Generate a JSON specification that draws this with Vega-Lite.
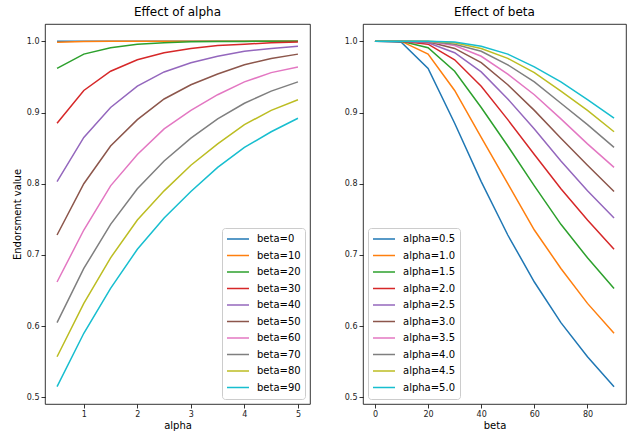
{
  "$schema": "https://vega.github.io/schema/vega-lite/v6.json",
  "padding": {"top": 5, "left": 11, "right": 0, "bottom": 0},
  "datasets": {
    "grid": [
      {"beta": 0, "alpha": 0.5, "v": 1.0}, {"beta": 0, "alpha": 1.0, "v": 1.0}, {"beta": 0, "alpha": 1.5, "v": 1.0}, {"beta": 0, "alpha": 2.0, "v": 1.0}, {"beta": 0, "alpha": 2.5, "v": 1.0}, {"beta": 0, "alpha": 3.0, "v": 1.0}, {"beta": 0, "alpha": 3.5, "v": 1.0}, {"beta": 0, "alpha": 4.0, "v": 1.0}, {"beta": 0, "alpha": 4.5, "v": 1.0}, {"beta": 0, "alpha": 5.0, "v": 1.0},
      {"beta": 10, "alpha": 0.5, "v": 0.9985}, {"beta": 10, "alpha": 1.0, "v": 0.9999}, {"beta": 10, "alpha": 1.5, "v": 1.0}, {"beta": 10, "alpha": 2.0, "v": 1.0}, {"beta": 10, "alpha": 2.5, "v": 1.0}, {"beta": 10, "alpha": 3.0, "v": 1.0}, {"beta": 10, "alpha": 3.5, "v": 1.0}, {"beta": 10, "alpha": 4.0, "v": 1.0}, {"beta": 10, "alpha": 4.5, "v": 1.0}, {"beta": 10, "alpha": 5.0, "v": 1.0},
      {"beta": 20, "alpha": 0.5, "v": 0.962}, {"beta": 20, "alpha": 1.0, "v": 0.982}, {"beta": 20, "alpha": 1.5, "v": 0.991}, {"beta": 20, "alpha": 2.0, "v": 0.996}, {"beta": 20, "alpha": 2.5, "v": 0.998}, {"beta": 20, "alpha": 3.0, "v": 0.9993}, {"beta": 20, "alpha": 3.5, "v": 0.9997}, {"beta": 20, "alpha": 4.0, "v": 0.9999}, {"beta": 20, "alpha": 4.5, "v": 1.0}, {"beta": 20, "alpha": 5.0, "v": 1.0},
      {"beta": 30, "alpha": 0.5, "v": 0.885}, {"beta": 30, "alpha": 1.0, "v": 0.931}, {"beta": 30, "alpha": 1.5, "v": 0.958}, {"beta": 30, "alpha": 2.0, "v": 0.974}, {"beta": 30, "alpha": 2.5, "v": 0.984}, {"beta": 30, "alpha": 3.0, "v": 0.990}, {"beta": 30, "alpha": 3.5, "v": 0.994}, {"beta": 30, "alpha": 4.0, "v": 0.996}, {"beta": 30, "alpha": 4.5, "v": 0.998}, {"beta": 30, "alpha": 5.0, "v": 0.999},
      {"beta": 40, "alpha": 0.5, "v": 0.803}, {"beta": 40, "alpha": 1.0, "v": 0.865}, {"beta": 40, "alpha": 1.5, "v": 0.907}, {"beta": 40, "alpha": 2.0, "v": 0.937}, {"beta": 40, "alpha": 2.5, "v": 0.957}, {"beta": 40, "alpha": 3.0, "v": 0.970}, {"beta": 40, "alpha": 3.5, "v": 0.979}, {"beta": 40, "alpha": 4.0, "v": 0.986}, {"beta": 40, "alpha": 4.5, "v": 0.990}, {"beta": 40, "alpha": 5.0, "v": 0.993},
      {"beta": 50, "alpha": 0.5, "v": 0.728}, {"beta": 50, "alpha": 1.0, "v": 0.800}, {"beta": 50, "alpha": 1.5, "v": 0.853}, {"beta": 50, "alpha": 2.0, "v": 0.890}, {"beta": 50, "alpha": 2.5, "v": 0.919}, {"beta": 50, "alpha": 3.0, "v": 0.939}, {"beta": 50, "alpha": 3.5, "v": 0.954}, {"beta": 50, "alpha": 4.0, "v": 0.967}, {"beta": 50, "alpha": 4.5, "v": 0.976}, {"beta": 50, "alpha": 5.0, "v": 0.982},
      {"beta": 60, "alpha": 0.5, "v": 0.662}, {"beta": 60, "alpha": 1.0, "v": 0.735}, {"beta": 60, "alpha": 1.5, "v": 0.797}, {"beta": 60, "alpha": 2.0, "v": 0.841}, {"beta": 60, "alpha": 2.5, "v": 0.877}, {"beta": 60, "alpha": 3.0, "v": 0.903}, {"beta": 60, "alpha": 3.5, "v": 0.925}, {"beta": 60, "alpha": 4.0, "v": 0.943}, {"beta": 60, "alpha": 4.5, "v": 0.956}, {"beta": 60, "alpha": 5.0, "v": 0.964},
      {"beta": 70, "alpha": 0.5, "v": 0.605}, {"beta": 70, "alpha": 1.0, "v": 0.681}, {"beta": 70, "alpha": 1.5, "v": 0.743}, {"beta": 70, "alpha": 2.0, "v": 0.793}, {"beta": 70, "alpha": 2.5, "v": 0.832}, {"beta": 70, "alpha": 3.0, "v": 0.864}, {"beta": 70, "alpha": 3.5, "v": 0.891}, {"beta": 70, "alpha": 4.0, "v": 0.913}, {"beta": 70, "alpha": 4.5, "v": 0.930}, {"beta": 70, "alpha": 5.0, "v": 0.943},
      {"beta": 80, "alpha": 0.5, "v": 0.557}, {"beta": 80, "alpha": 1.0, "v": 0.632}, {"beta": 80, "alpha": 1.5, "v": 0.696}, {"beta": 80, "alpha": 2.0, "v": 0.749}, {"beta": 80, "alpha": 2.5, "v": 0.790}, {"beta": 80, "alpha": 3.0, "v": 0.826}, {"beta": 80, "alpha": 3.5, "v": 0.856}, {"beta": 80, "alpha": 4.0, "v": 0.883}, {"beta": 80, "alpha": 4.5, "v": 0.903}, {"beta": 80, "alpha": 5.0, "v": 0.918},
      {"beta": 90, "alpha": 0.5, "v": 0.515}, {"beta": 90, "alpha": 1.0, "v": 0.590}, {"beta": 90, "alpha": 1.5, "v": 0.653}, {"beta": 90, "alpha": 2.0, "v": 0.708}, {"beta": 90, "alpha": 2.5, "v": 0.752}, {"beta": 90, "alpha": 3.0, "v": 0.789}, {"beta": 90, "alpha": 3.5, "v": 0.823}, {"beta": 90, "alpha": 4.0, "v": 0.851}, {"beta": 90, "alpha": 4.5, "v": 0.873}, {"beta": 90, "alpha": 5.0, "v": 0.892}
    ]
  },
  "spacing": 32,
  "resolve": {"scale": {"color": "independent"}},
  "hconcat": [
    {
      "title": "Effect of alpha",
      "width": 265,
      "height": 380,
      "data": {"name": "grid"},
      "mark": {"type": "line", "strokeWidth": 1.5},
      "encoding": {
        "x": {"field": "alpha", "type": "quantitative", "scale": {"domain": [0.275, 5.225], "nice": false, "zero": false}, "axis": {"title": "alpha", "values": [1, 2, 3, 4, 5], "format": "d", "titlePadding": 2}},
        "y": {"field": "v", "type": "quantitative", "scale": {"domain": [0.4907, 1.0243], "nice": false, "zero": false}, "axis": {"title": "Endorsment value", "values": [0.5, 0.6, 0.7, 0.8, 0.9, 1.0], "format": ".1f"}},
        "color": {"field": "beta", "type": "nominal",
          "scale": {"domain": [0, 10, 20, 30, 40, 50, 60, 70, 80, 90], "range": ["#1f77b4", "#ff7f0e", "#2ca02c", "#d62728", "#9467bd", "#8c564b", "#e377c2", "#7f7f7f", "#bcbd22", "#17becf"]},
          "legend": {"title": null, "orient": "bottom-right", "labelExpr": "'beta=' + datum.value"}}
      }
    },
    {
      "title": "Effect of beta",
      "width": 263,
      "height": 380,
      "data": {"name": "grid"},
      "mark": {"type": "line", "strokeWidth": 1.5},
      "encoding": {
        "x": {"field": "beta", "type": "quantitative", "scale": {"domain": [-4.5, 94.5], "nice": false, "zero": false}, "axis": {"title": "beta", "values": [0, 20, 40, 60, 80], "format": "d", "titlePadding": 2}},
        "y": {"field": "v", "type": "quantitative", "scale": {"domain": [0.4907, 1.0243], "nice": false, "zero": false}, "axis": {"title": null, "values": [0.5, 0.6, 0.7, 0.8, 0.9, 1.0], "format": ".1f"}},
        "color": {"field": "alpha", "type": "nominal",
          "scale": {"domain": [0.5, 1.0, 1.5, 2.0, 2.5, 3.0, 3.5, 4.0, 4.5, 5.0], "range": ["#1f77b4", "#ff7f0e", "#2ca02c", "#d62728", "#9467bd", "#8c564b", "#e377c2", "#7f7f7f", "#bcbd22", "#17becf"]},
          "legend": {"title": null, "orient": "bottom-left", "labelExpr": "'alpha=' + format(datum.value, '.1f')"}}
      }
    }
  ],
  "config": {
    "font": "DejaVu Sans",
    "background": "white",
    "view": {"stroke": "#000", "strokeWidth": 0.8},
    "axis": {"domain": false, "grid": false, "tickColor": "#000", "tickSize": 4, "tickWidth": 0.8, "labelPadding": 2, "labelFontSize": 8, "labelColor": "#222", "titleFontSize": 10, "titleFontWeight": "normal", "titleColor": "#000", "titlePadding": 4},
    "title": {"fontSize": 12, "fontWeight": "normal", "anchor": "middle", "offset": 5, "color": "#000"},
    "legend": {"fillColor": "white", "strokeColor": "#cccccc", "cornerRadius": 3, "padding": 4, "offset": 5, "symbolType": "stroke", "symbolSize": 484, "symbolStrokeWidth": 1.5, "labelFontSize": 10, "labelColor": "#000", "labelOffset": 7, "clipHeight": 14, "rowPadding": 2.5}
  }
}
